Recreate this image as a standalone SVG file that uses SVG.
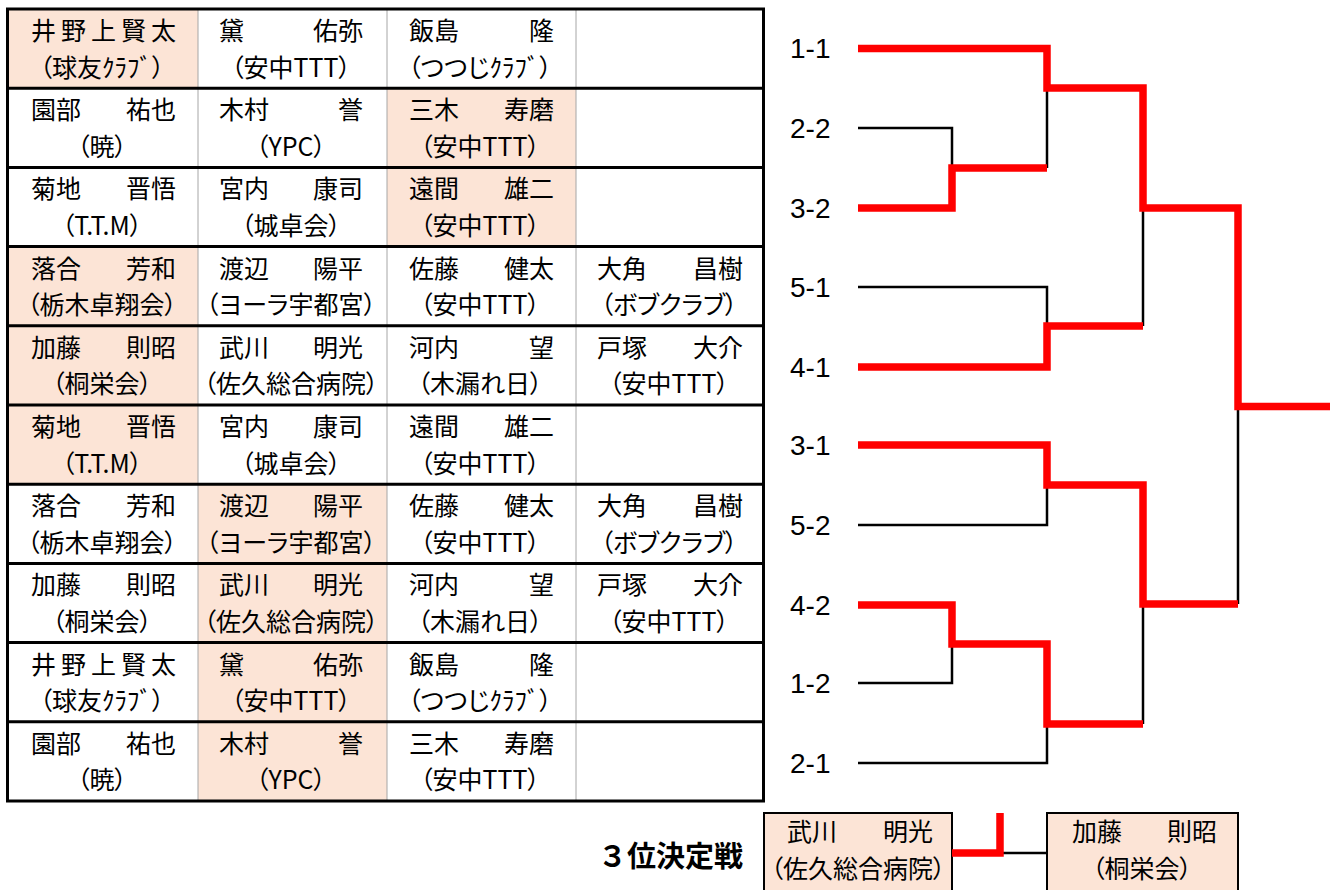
<svg xmlns="http://www.w3.org/2000/svg" width="1330" height="890" viewBox="0 0 1330 890">
<style>
.hl{fill:#FCE4D6}
.c{font-family:"Noto Sans CJK JP","Noto Sans CJK SC",sans-serif;font-size:25px;fill:#000}
.t{text-anchor:middle;font-feature-settings:"palt"}
.lbl{font-family:"Liberation Sans",Arial,sans-serif;font-size:28px;fill:#000}
.ttl{font-family:"Noto Sans CJK JP","Noto Sans CJK SC",sans-serif;font-size:29px;font-weight:bold;fill:#000}
.thin{stroke:#A6A6A6;stroke-width:1;fill:none}
.thick{stroke:#000;stroke-width:3;fill:none}
.red{fill:none;stroke:#FF0000;stroke-width:7.5;stroke-linejoin:miter}
.blk{fill:none;stroke:#000;stroke-width:2.5}
.box{stroke:#000;stroke-width:2;fill:#FCE4D6}
</style>
<g id="table">
<g id="r1c1"><rect class="hl" x="7.5" y="9" width="190.5" height="79.2"/><text class="c"><tspan x="31 61 91 121 151" y="40">井野上賢太</tspan><tspan class="t" x="102" y="76.5">（球友ｸﾗﾌﾞ）</tspan></text></g>
<g id="r1c2"><text class="c"><tspan x="219 244 313 338" y="40">黛　佑弥</tspan><tspan class="t" x="291" y="76.5">（安中TTT）</tspan></text></g>
<g id="r1c3"><text class="c"><tspan x="409 434 459 529" y="40">飯島　隆</tspan><tspan class="t" x="480" y="76.5">（つつじｸﾗﾌﾞ）</tspan></text></g>

<g id="r2c1"><text class="c"><tspan x="31 56 81 126 151" y="119.2">園部　祐也</tspan><tspan class="t" x="102" y="155.7">（暁）</tspan></text></g>
<g id="r2c2"><text class="c"><tspan x="219 244 269 338" y="119.2">木村　誉</tspan><tspan class="t" x="291" y="155.7">（YPC）</tspan></text></g>
<g id="r2c3"><rect class="hl" x="387" y="88.2" width="189" height="79.2"/><text class="c"><tspan x="409 434 459 504 529" y="119.2">三木　寿磨</tspan><tspan class="t" x="480" y="155.7">（安中TTT）</tspan></text></g>

<g id="r3c1"><text class="c"><tspan x="31 56 81 126 151" y="198.4">菊地　晋悟</tspan><tspan class="t" x="102" y="234.9">（T.T.M）</tspan></text></g>
<g id="r3c2"><text class="c"><tspan x="219 244 269 313 338" y="198.4">宮内　康司</tspan><tspan class="t" x="291" y="234.9">（城卓会）</tspan></text></g>
<g id="r3c3"><rect class="hl" x="387" y="167.4" width="189" height="79.2"/><text class="c"><tspan x="409 434 459 504 529" y="198.4">遠間　雄二</tspan><tspan class="t" x="480" y="234.9">（安中TTT）</tspan></text></g>

<g id="r4c1"><rect class="hl" x="7.5" y="246.6" width="190.5" height="79.2"/><text class="c"><tspan x="31 56 81 126 151" y="277.6">落合　芳和</tspan><tspan class="t" x="102" y="314.1">（栃木卓翔会）</tspan></text></g>
<g id="r4c2"><text class="c"><tspan x="219 244 269 313 338" y="277.6">渡辺　陽平</tspan><tspan class="t" x="291" y="314.1">（ヨーラ宇都宮）</tspan></text></g>
<g id="r4c3"><text class="c"><tspan x="409 434 459 504 529" y="277.6">佐藤　健太</tspan><tspan class="t" x="480" y="314.1">（安中TTT）</tspan></text></g>
<g id="r4c4"><text class="c"><tspan x="597 622 647 693 718" y="277.6">大角　昌樹</tspan><tspan class="t" x="669" y="314.1">（ボブクラブ）</tspan></text></g>

<g id="r5c1"><rect class="hl" x="7.5" y="325.8" width="190.5" height="79.2"/><text class="c"><tspan x="31 56 81 126 151" y="356.8">加藤　則昭</tspan><tspan class="t" x="102" y="393.3">（桐栄会）</tspan></text></g>
<g id="r5c2"><text class="c"><tspan x="219 244 269 313 338" y="356.8">武川　明光</tspan><tspan class="t" x="291" y="393.3">（佐久総合病院）</tspan></text></g>
<g id="r5c3"><text class="c"><tspan x="409 434 459 529" y="356.8">河内　望</tspan><tspan class="t" x="480" y="393.3">（木漏れ日）</tspan></text></g>
<g id="r5c4"><text class="c"><tspan x="597 622 647 693 718" y="356.8">戸塚　大介</tspan><tspan class="t" x="669" y="393.3">（安中TTT）</tspan></text></g>

<g id="r6c1"><rect class="hl" x="7.5" y="405" width="190.5" height="79.2"/><text class="c"><tspan x="31 56 81 126 151" y="436">菊地　晋悟</tspan><tspan class="t" x="102" y="472.5">（T.T.M）</tspan></text></g>
<g id="r6c2"><text class="c"><tspan x="219 244 269 313 338" y="436">宮内　康司</tspan><tspan class="t" x="291" y="472.5">（城卓会）</tspan></text></g>
<g id="r6c3"><text class="c"><tspan x="409 434 459 504 529" y="436">遠間　雄二</tspan><tspan class="t" x="480" y="472.5">（安中TTT）</tspan></text></g>

<g id="r7c1"><text class="c"><tspan x="31 56 81 126 151" y="515.2">落合　芳和</tspan><tspan class="t" x="102" y="551.7">（栃木卓翔会）</tspan></text></g>
<g id="r7c2"><rect class="hl" x="198" y="484.2" width="189" height="79.2"/><text class="c"><tspan x="219 244 269 313 338" y="515.2">渡辺　陽平</tspan><tspan class="t" x="291" y="551.7">（ヨーラ宇都宮）</tspan></text></g>
<g id="r7c3"><text class="c"><tspan x="409 434 459 504 529" y="515.2">佐藤　健太</tspan><tspan class="t" x="480" y="551.7">（安中TTT）</tspan></text></g>
<g id="r7c4"><text class="c"><tspan x="597 622 647 693 718" y="515.2">大角　昌樹</tspan><tspan class="t" x="669" y="551.7">（ボブクラブ）</tspan></text></g>

<g id="r8c1"><text class="c"><tspan x="31 56 81 126 151" y="594.4">加藤　則昭</tspan><tspan class="t" x="102" y="630.9">（桐栄会）</tspan></text></g>
<g id="r8c2"><rect class="hl" x="198" y="563.4" width="189" height="79.2"/><text class="c"><tspan x="219 244 269 313 338" y="594.4">武川　明光</tspan><tspan class="t" x="291" y="630.9">（佐久総合病院）</tspan></text></g>
<g id="r8c3"><text class="c"><tspan x="409 434 459 529" y="594.4">河内　望</tspan><tspan class="t" x="480" y="630.9">（木漏れ日）</tspan></text></g>
<g id="r8c4"><text class="c"><tspan x="597 622 647 693 718" y="594.4">戸塚　大介</tspan><tspan class="t" x="669" y="630.9">（安中TTT）</tspan></text></g>

<g id="r9c1"><text class="c"><tspan x="31 61 91 121 151" y="673.6">井野上賢太</tspan><tspan class="t" x="102" y="710.1">（球友ｸﾗﾌﾞ）</tspan></text></g>
<g id="r9c2"><rect class="hl" x="198" y="642.6" width="189" height="79.2"/><text class="c"><tspan x="219 244 313 338" y="673.6">黛　佑弥</tspan><tspan class="t" x="291" y="710.1">（安中TTT）</tspan></text></g>
<g id="r9c3"><text class="c"><tspan x="409 434 459 529" y="673.6">飯島　隆</tspan><tspan class="t" x="480" y="710.1">（つつじｸﾗﾌﾞ）</tspan></text></g>

<g id="r10c1"><text class="c"><tspan x="31 56 81 126 151" y="752.8">園部　祐也</tspan><tspan class="t" x="102" y="789.3">（暁）</tspan></text></g>
<g id="r10c2"><rect class="hl" x="198" y="721.8" width="189" height="79.2"/><text class="c"><tspan x="219 244 269 338" y="752.8">木村　誉</tspan><tspan class="t" x="291" y="789.3">（YPC）</tspan></text></g>
<g id="r10c3"><text class="c"><tspan x="409 434 459 504 529" y="752.8">三木　寿磨</tspan><tspan class="t" x="480" y="789.3">（安中TTT）</tspan></text></g>

<g id="grid">
<path class="thin" d="M198,9V801M387,9V801M576,9V801"/>
<path class="thick" d="M7.5,88.2H763.5M7.5,167.4H763.5M7.5,246.6H763.5M7.5,325.8H763.5M7.5,405H763.5M7.5,484.2H763.5M7.5,563.4H763.5M7.5,642.6H763.5M7.5,721.8H763.5"/>
<rect class="thick" x="7.5" y="9" width="756" height="792"/>
</g>
</g>

<g id="labels">
<g id="s1-1"><text class="lbl" x="790" y="58">1-1</text></g>
<g id="s2-2"><text class="lbl" x="790" y="137.5">2-2</text></g>
<g id="s3-2"><text class="lbl" x="790" y="217.5">3-2</text></g>
<g id="s5-1"><text class="lbl" x="790" y="296.5">5-1</text></g>
<g id="s4-1"><text class="lbl" x="790" y="376.5">4-1</text></g>
<g id="s3-1"><text class="lbl" x="790" y="454.5">3-1</text></g>
<g id="s5-2"><text class="lbl" x="790" y="534.5">5-2</text></g>
<g id="s4-2"><text class="lbl" x="790" y="614.5">4-2</text></g>
<g id="s1-2"><text class="lbl" x="790" y="692.5">1-2</text></g>
<g id="s2-1"><text class="lbl" x="790" y="772.5">2-1</text></g>
</g>

<g id="third">
<g id="title3"><text class="ttl" x="598" y="867">３位決定戦</text></g>
<g id="p1"><rect class="box" x="764" y="813" width="188" height="90"/><text class="c"><tspan x="787 812 837 883 908" y="841">武川　明光</tspan><tspan class="t" x="858" y="877.5">（佐久総合病院）</tspan></text></g>
<g id="p2"><rect class="box" x="1047" y="813" width="191" height="90"/><text class="c"><tspan x="1072 1097 1122 1167 1192" y="841">加藤　則昭</tspan><tspan class="t" x="1142" y="877.5">（桐栄会）</tspan></text></g>
</g>

<g id="connectors">
<path class="blk" d="M858,128H952V168"/>
<path class="blk" d="M1047,88V168"/>
<path class="blk" d="M858,287H1047V326"/>
<path class="blk" d="M1143,208V326"/>
<path class="blk" d="M858,525H1047V485"/>
<path class="blk" d="M858,683H952V644"/>
<path class="blk" d="M858,763H1047V724"/>
<path class="blk" d="M1143,604V724"/>
<path class="blk" d="M1238,406V604"/>
<path class="blk" d="M1000,853H1047"/>
<path class="red" d="M858,48.5H1047V88H1143V208H1238V406.5H1330"/>
<path class="red" d="M858,208H952V168H1047"/>
<path class="red" d="M858,367H1047V326H1143"/>
<path class="red" d="M858,445H1047V485H1143V604H1238"/>
<path class="red" d="M858,605H952V644H1047V724H1143"/>
<path class="red" d="M952,853H1000V813"/>
</g>
</svg>
